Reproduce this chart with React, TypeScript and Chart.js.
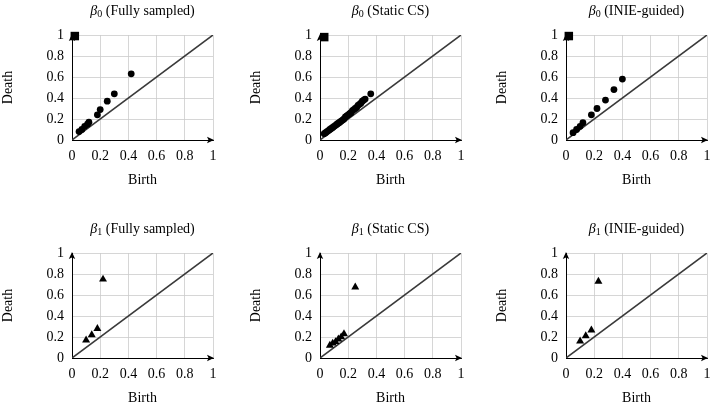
import React, { useEffect, useRef } from "react";
import { Chart, registerables } from "chart.js";

Chart.register(...registerables);

// ---------- data (birth / death pairs) ----------
const tickValues = [0, 0.2, 0.4, 0.6, 0.8, 1];
const tickLabels = ["0", "0.2", "0.4", "0.6", "0.8", "1"];

// beta_0, fully sampled
const fsB0Birth = [0.05, 0.07, 0.09, 0.11, 0.12, 0.18, 0.2, 0.25, 0.3, 0.42];
const fsB0Death = [0.08, 0.1, 0.13, 0.15, 0.17, 0.24, 0.29, 0.37, 0.44, 0.63];
const fsB0InfBirth = [0.02];
const fsB0InfDeath = [0.99];

// beta_0, static CS
const csB0Birth = [0.03, 0.04, 0.05, 0.06, 0.07, 0.08, 0.09, 0.1, 0.11, 0.12, 0.13, 0.14, 0.15, 0.16, 0.17, 0.18, 0.19, 0.2, 0.21, 0.22, 0.23, 0.24, 0.25, 0.26, 0.27, 0.28, 0.29, 0.3, 0.31, 0.32, 0.36];
const csB0Death = [0.06, 0.07, 0.08, 0.09, 0.1, 0.11, 0.12, 0.13, 0.14, 0.15, 0.16, 0.17, 0.18, 0.19, 0.2, 0.22, 0.23, 0.24, 0.25, 0.26, 0.28, 0.29, 0.3, 0.31, 0.33, 0.34, 0.35, 0.37, 0.38, 0.39, 0.44];
const csB0InfBirth = [0.03];
const csB0InfDeath = [0.98];

// beta_0, INIE-guided
const inB0Birth = [0.05, 0.075, 0.1, 0.12, 0.18, 0.22, 0.28, 0.34, 0.4];
const inB0Death = [0.07, 0.1, 0.13, 0.165, 0.24, 0.3, 0.38, 0.48, 0.58];
const inB0InfBirth = [0.02];
const inB0InfDeath = [0.99];

// beta_1, fully sampled
const fsB1Birth = [0.1, 0.14, 0.18, 0.22];
const fsB1Death = [0.17, 0.22, 0.28, 0.75];

// beta_1, static CS
const csB1Birth = [0.07, 0.09, 0.11, 0.13, 0.15, 0.17, 0.25];
const csB1Death = [0.12, 0.14, 0.155, 0.18, 0.2, 0.23, 0.675];

// beta_1, INIE-guided
const inB1Birth = [0.1, 0.14, 0.18, 0.23];
const inB1Death = [0.16, 0.21, 0.265, 0.73];

const diagX = [0, 1];

const FAMILY = "'Liberation Serif', 'Times New Roman', serif";

type Panel = {
  dim: string;
  label: string;
  birth: number[];
  death: number[];
  infBirth: number[];
  infDeath: number[];
  style: "circle" | "triangle";
  left: number;
  top: number;
};

const panels: Panel[] = [
  { dim: "0", label: " (Fully sampled)", birth: fsB0Birth, death: fsB0Death, infBirth: fsB0InfBirth, infDeath: fsB0InfDeath, style: "circle", left: 0, top: 0 },
  { dim: "0", label: " (Static CS)", birth: csB0Birth, death: csB0Death, infBirth: csB0InfBirth, infDeath: csB0InfDeath, style: "circle", left: 248, top: 0 },
  { dim: "0", label: " (INIE-guided)", birth: inB0Birth, death: inB0Death, infBirth: inB0InfBirth, infDeath: inB0InfDeath, style: "circle", left: 494, top: 0 },
  { dim: "1", label: " (Fully sampled)", birth: fsB1Birth, death: fsB1Death, infBirth: [], infDeath: [], style: "triangle", left: 0, top: 218 },
  { dim: "1", label: " (Static CS)", birth: csB1Birth, death: csB1Death, infBirth: [], infDeath: [], style: "triangle", left: 248, top: 218 },
  { dim: "1", label: " (INIE-guided)", birth: inB1Birth, death: inB1Death, infBirth: [], infDeath: [], style: "triangle", left: 494, top: 218 },
];

const pdDecor = {
  id: "pdDecor",
  afterDraw(chart: any, _args: any, opts: any) {
    const { ctx, chartArea } = chart;
    const { left, right, top, bottom } = chartArea;
    ctx.save();
    // arrowheads
    ctx.fillStyle = "#000";
    ctx.beginPath();
    ctx.moveTo(right + 1, bottom);
    ctx.lineTo(right - 6, bottom - 3.2);
    ctx.lineTo(right - 4.5, bottom);
    ctx.lineTo(right - 6, bottom + 3.2);
    ctx.closePath();
    ctx.fill();
    ctx.beginPath();
    ctx.moveTo(left, top - 1);
    ctx.lineTo(left - 3.2, top + 6);
    ctx.lineTo(left, top + 4.5);
    ctx.lineTo(left + 3.2, top + 6);
    ctx.closePath();
    ctx.fill();
    // title: beta_k (label)
    const cx = (left + right) / 2;
    const cy = top - 24;
    const fBeta = `italic 14px ${FAMILY}`;
    const fSub = `10px ${FAMILY}`;
    const fMain = `14px ${FAMILY}`;
    ctx.font = fBeta;
    const wB = ctx.measureText("β").width;
    ctx.font = fSub;
    const wS = ctx.measureText(opts.dim).width;
    ctx.font = fMain;
    const wM = ctx.measureText(opts.label).width;
    let x = cx - (wB + wS + wM) / 2;
    ctx.textBaseline = "middle";
    ctx.textAlign = "left";
    ctx.fillStyle = "#000";
    ctx.font = fBeta;
    ctx.fillText("β", x, cy);
    x += wB;
    ctx.font = fSub;
    ctx.fillText(opts.dim, x, cy + 3.5);
    x += wS;
    ctx.font = fMain;
    ctx.fillText(opts.label, x, cy);
    ctx.restore();
  },
};

const fmtTick = (v: number) => {
  const i = tickValues.indexOf(v);
  return i >= 0 ? tickLabels[i] : String(v);
};

function PDChart({ p }: { p: Panel }) {
  const ref = useRef<HTMLCanvasElement>(null);
  useEffect(() => {
    if (!ref.current) return;
    const diag = diagX.map((v) => ({ x: v, y: v }));
    const pts = p.birth.map((b, i) => ({ x: b, y: p.death[i] }));
    const inf = p.infBirth.map((b, i) => ({ x: b, y: p.infDeath[i] }));
    const chart = new Chart(ref.current, {
      type: "scatter",
      data: {
        datasets: [
          {
            data: pts,
            pointStyle: p.style,
            pointRadius: p.style === "circle" ? 3.4 : 4.6,
            backgroundColor: "#000",
            borderColor: "#000",
            borderWidth: 0,
            order: 0,
            clip: false,
          } as any,
          {
            data: inf,
            pointStyle: "rect",
            pointRadius: 6,
            backgroundColor: "#000",
            borderColor: "#000",
            borderWidth: 0,
            order: 0,
            clip: false,
          } as any,
          {
            type: "line",
            data: diag,
            borderColor: "#3a3a3a",
            borderWidth: 1.6,
            pointRadius: 0,
            showLine: true,
            order: 5,
          } as any,
        ],
      },
      options: {
        responsive: false,
        animation: false,
        events: [],
        layout: { padding: { left: 0, right: 17, top: 35, bottom: 0 } },
        plugins: {
          legend: { display: false },
          tooltip: { enabled: false },
          pdDecor: { dim: p.dim, label: p.label },
        } as any,
        scales: {
          x: {
            type: "linear",
            min: 0,
            max: 1,
            afterBuildTicks: (s: any) => {
              s.ticks = tickValues.map((v) => ({ value: v }));
            },
            afterFit: (s: any) => {
              s.height = 60;
              s.paddingLeft = 0;
              s.paddingRight = 0;
            },
            grid: { color: "#cccccc", lineWidth: 0.8, drawTicks: false },
            border: { color: "#000", width: 1 },
            ticks: { color: "#000", padding: 8, font: { family: FAMILY, size: 14 }, maxRotation: 0, callback: (v: any) => fmtTick(v) },
            title: { display: true, text: "Birth", color: "#000", font: { family: FAMILY, size: 14 }, padding: { top: 0, bottom: 11 } },
          },
          y: {
            type: "linear",
            min: 0,
            max: 1,
            afterBuildTicks: (s: any) => {
              s.ticks = tickValues.map((v) => ({ value: v }));
            },
            afterFit: (s: any) => {
              s.width = 72;
              s.paddingTop = 0;
              s.paddingBottom = 0;
            },
            grid: { color: "#cccccc", lineWidth: 0.8, drawTicks: false },
            border: { color: "#000", width: 1 },
            ticks: { color: "#000", padding: 8, font: { family: FAMILY, size: 14 }, callback: (v: any) => fmtTick(v) },
            title: { display: true, text: "Death", color: "#000", font: { family: FAMILY, size: 14 }, padding: { top: 0, bottom: 0 } },
          },
        },
      } as any,
      plugins: [pdDecor],
    });
    return () => chart.destroy();
  }, [p]);
  return (
    <canvas
      ref={ref}
      width={230}
      height={200}
      style={{ position: "absolute", left: p.left, top: p.top, width: 230, height: 200 }}
    />
  );
}

export default function App() {
  return (
    <div
      style={{
        position: "fixed",
        left: 0,
        top: 0,
        width: 719,
        height: 406,
        overflow: "hidden",
        background: "#fff",
      }}
    >
      {panels.map((p, i) => (
        <PDChart key={i} p={p} />
      ))}
    </div>
  );
}
